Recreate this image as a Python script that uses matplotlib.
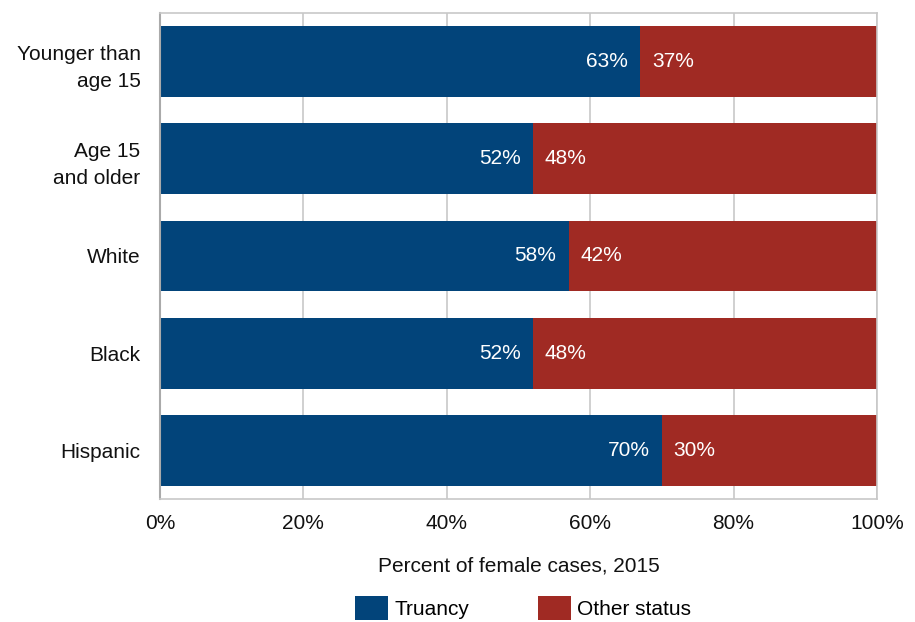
"""Female status offense cases by offense type, 2015 — stacked horizontal bars."""
import matplotlib
matplotlib.use("Agg")
import matplotlib.pyplot as plt
from matplotlib.patches import Patch

plt.rcParams["font.family"] = ["Liberation Sans", "DejaVu Sans"]

categories = ["Younger than\nage 15", "Age 15\nand older", "White", "Black", "Hispanic"]
truancy = [67, 52, 57, 52, 70]
other = [33, 48, 43, 48, 30]
truancy_labels = ["63%", "52%", "58%", "52%", "70%"]
other_labels = ["37%", "48%", "42%", "48%", "30%"]
x_ticks = [0, 20, 40, 60, 80, 100]
x_tick_labels = ["0%", "20%", "40%", "60%", "80%", "100%"]

BLUE = "#02447A"
RED = "#A02A23"
GRID = "#C8C8C8"
FS = 15

fig = plt.figure(figsize=(9.15, 6.22), dpi=100)
ax = fig.add_axes([160 / 915, 1 - 499 / 622, 717 / 915, 486 / 622])

y = list(range(len(categories)))
ax.barh(y, truancy, height=0.73, color=BLUE, zorder=2)
ax.barh(y, other, left=truancy, height=0.73, color=RED, zorder=2)

for yi, t, tl, ol in zip(y, truancy, truancy_labels, other_labels):
    ax.text(t - 1.7, yi, tl, ha="right", va="center", color="white", fontsize=FS, zorder=3)
    ax.text(t + 1.6, yi, ol, ha="left", va="center", color="white", fontsize=FS, zorder=3)

ax.set_xlim(0, 100)
ax.set_ylim(len(categories) - 0.5, -0.5)
ax.set_yticks(y)
ax.set_yticklabels(categories, fontsize=FS, color="#111111", linespacing=1.55)
ax.set_xticks(x_ticks)
ax.set_xticklabels(x_tick_labels, fontsize=FS, color="#111111")
ax.tick_params(axis="y", length=0, pad=14)
ax.tick_params(axis="x", length=0, pad=11)
ax.grid(axis="x", color=GRID, linewidth=1.2, zorder=0)
for side in ["top", "right", "bottom"]:
    ax.spines[side].set_color(GRID)
    ax.spines[side].set_linewidth(1.2)
ax.spines["left"].set_color("#AAAAAA")
ax.spines["left"].set_linewidth(1.5)
ax.set_xlabel("Percent of female cases, 2015", fontsize=FS, color="#111111", labelpad=17)

handles = [Patch(facecolor=BLUE), Patch(facecolor=RED)]
fig.legend(handles, ["Truancy", "Other status"], loc="center", ncol=2,
           bbox_to_anchor=(523 / 915, 1 - 608 / 622), frameon=False, fontsize=FS,
           handlelength=1.6, handleheight=1.35, handletextpad=0.3, columnspacing=3.3)

fig.savefig("out.png", dpi=100)
